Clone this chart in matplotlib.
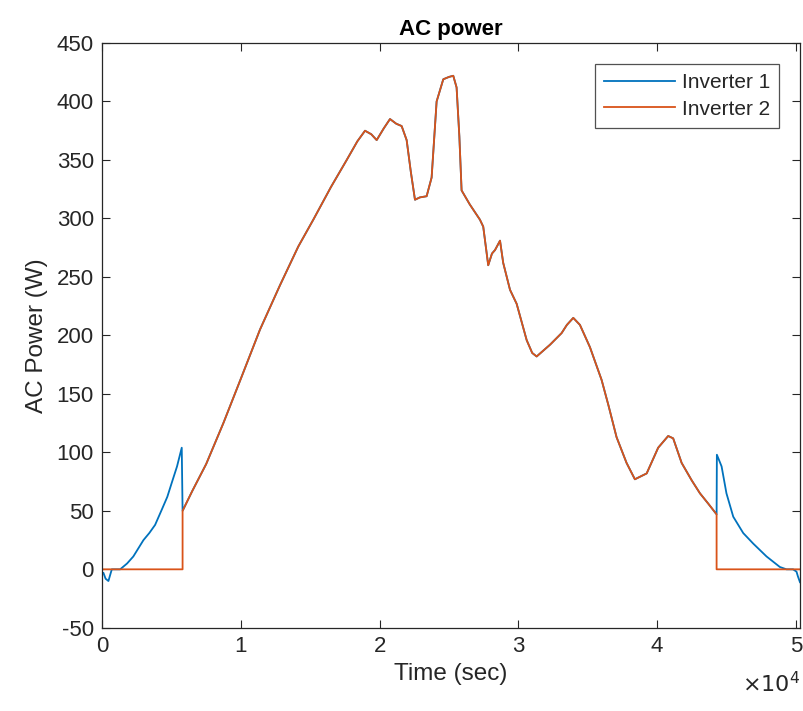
"""AC power of two inverters over one day, MATLAB-style line plot."""
import matplotlib
matplotlib.use("Agg")
import matplotlib.pyplot as plt  # noqa: E402

plt.rcParams["font.family"] = ["Liberation Sans", "DejaVu Sans"]
plt.rcParams["axes.unicode_minus"] = False

# shared daytime section (both inverters follow the same curve)
day_t = [5800, 6500, 7500, 8740, 10000, 11380, 12825, 14140, 15225, 16500,
         17630, 18400, 18950, 19400, 19790, 20300, 20750, 21200, 21590, 21950,
         22250, 22550, 22900, 23390, 23750, 24110, 24590, 25000, 25310, 25550,
         25750, 25910, 26500, 27230, 27470, 27830, 28100, 28320, 28680, 28910,
         29400, 29880, 30600, 31000, 31320, 31800, 32280, 33120, 33500, 33960,
         34440, 35160, 36000, 36500, 37080, 37800, 38400, 39250, 40080, 40800,
         41160, 41770, 42500, 43090, 43700, 44290]
day_p = [50, 67, 90, 125, 163, 205, 243, 276, 299, 327,
         350, 366, 375, 372, 367, 377, 385, 381, 379, 367,
         340, 316, 318, 319, 335, 400, 419, 421, 422, 412,
         370, 324, 312, 299, 293, 260, 270, 273, 281, 262,
         239, 227, 196, 185, 182, 187, 192, 202, 209, 215,
         209, 190, 162, 140, 113, 91, 77, 82, 104, 114,
         112, 91, 76, 65, 56, 47]

# inverter 1 morning / evening ramps
inv1_am_t = [0, 95, 250, 455, 600, 700, 1300, 1800, 2250, 2980, 3400, 3700,
             3820, 4300, 4700, 5020, 5400, 5740, 5800]
inv1_am_p = [-3, -3, -8, -10, -4, 0, 0, 5, 11, 25, 31, 36,
             38, 51, 62, 74, 88, 104, 50]
inv1_pm_t = [44290, 44310, 44650, 45000, 45490, 46210, 46930, 47890, 48850,
             49330, 49800, 50050, 50150, 50300]
inv1_pm_p = [47, 98, 88, 65, 45, 31, 22, 11, 2, 0, 0, -2, -6, -11]

# inverter 2 is off outside the daytime section
inv2_am_t = [0, 5800]
inv2_am_p = [0, 0]
inv2_pm_t = [44290, 50300]
inv2_pm_p = [0, 0]

inv1_t = inv1_am_t + day_t + inv1_pm_t
inv1_p = inv1_am_p + day_p + inv1_pm_p
inv2_t = inv2_am_t + day_t + inv2_pm_t
inv2_p = inv2_am_p + day_p + inv2_pm_p

x_ticks = [0, 10000, 20000, 30000, 40000, 50000]
x_ticklabels = ["0", "1", "2", "3", "4", "5"]
y_ticks = [-50, 0, 50, 100, 150, 200, 250, 300, 350, 400, 450]

fig = plt.figure(figsize=(8.04, 7.11), dpi=100)
ax = fig.add_axes([0.127, 0.117, 0.868, 0.8225])
ax.plot(inv1_t, inv1_p, color="#0072BD", lw=1.3, label="Inverter 1")
ax.plot(inv2_t, inv2_p, color="#D95319", lw=1.3, label="Inverter 2")

ax.set_xlim(0, 50300)
ax.set_ylim(-50, 450)
ax.set_xticks(x_ticks)
ax.set_xticklabels(x_ticklabels)
ax.set_yticks(y_ticks)
grey = "#262626"
ax.tick_params(direction="in", top=True, right=True, labelsize=16,
               colors=grey, length=6, width=0.8, pad=6)
for s in ax.spines.values():
    s.set_color(grey)
    s.set_linewidth(0.9)
ax.set_xlabel("Time (sec)", fontsize=17.5, color=grey, labelpad=4)
ax.set_ylabel("AC Power (W)", fontsize=17.5, color=grey, labelpad=6)
ax.set_title("AC power", fontsize=16, fontweight="bold", color="black", pad=6)
ax.text(1.0, -0.075, r"$\times10^{4}$", transform=ax.transAxes, ha="right",
        va="top", fontsize=16, color=grey)

leg = ax.legend(loc="upper right", fontsize=15, frameon=True, fancybox=False,
                handlelength=3.4, borderpad=0.45, labelspacing=0.35,
                handletextpad=0.3, borderaxespad=1.0)
leg.get_frame().set_edgecolor(grey)
leg.get_frame().set_linewidth(0.9)
for t in leg.get_texts():
    t.set_color(grey)

fig.savefig("out.png", dpi=100)
plt.close(fig)
